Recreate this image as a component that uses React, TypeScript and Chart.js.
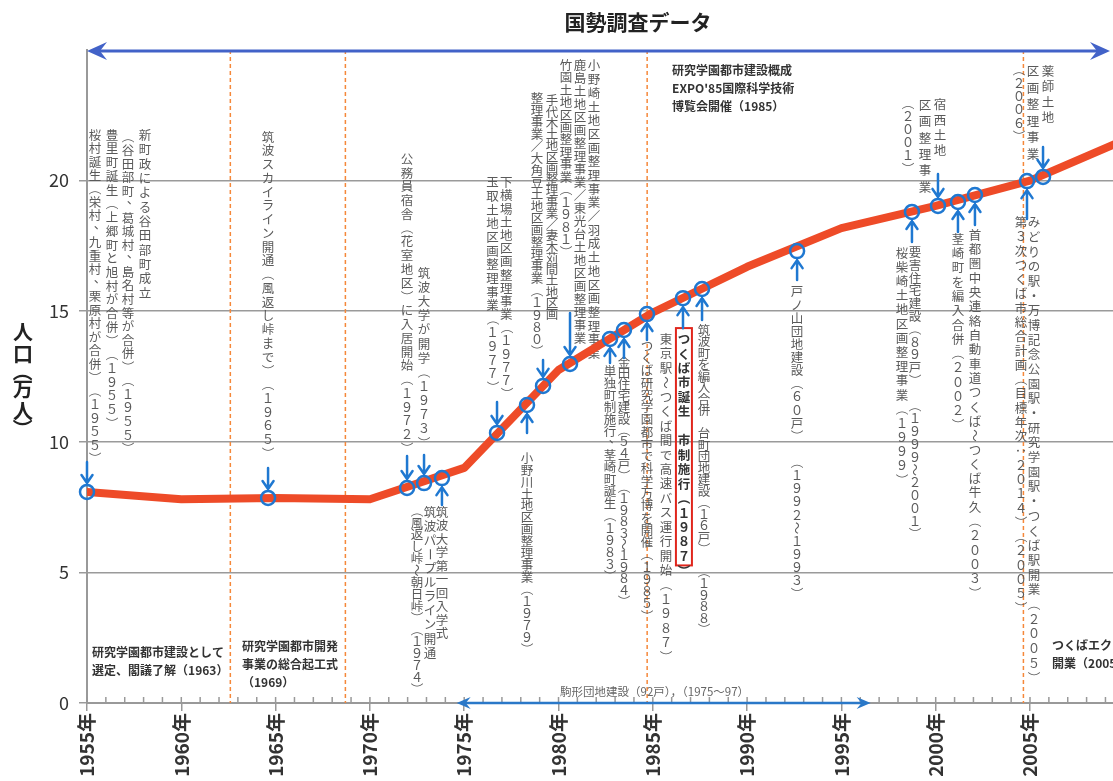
import { useEffect, useRef } from "react"
import { Chart, registerables, type Plugin } from "chart.js"

Chart.register(...registerables)

const FONT = "'Noto Sans CJK JP', 'Noto Sans', sans-serif"

// 国勢調査 population (万人)
const censusYears = [1955, 1960, 1965, 1970, 1975, 1980, 1985, 1990, 1995, 2000, 2005, 2010]
const population = [8.08, 7.8, 7.85, 7.8, 9.0, 12.75, 14.95, 16.7, 18.18, 19.03, 20.0, 21.55]

const yearTicks = [1955, 1960, 1965, 1970, 1975, 1980, 1985, 1990, 1995, 2000, 2005]
const valueTicks = [0, 5, 10, 15, 20]

// event markers on the curve
const markerYears = [
  1955.0, 1964.6, 1971.97, 1972.87, 1973.82, 1976.74, 1978.33, 1979.18, 1980.61, 1982.73, 1983.47,
  1984.69, 1986.6, 1987.61, 1992.65, 1998.74, 2000.12, 2001.18, 2002.08, 2004.84, 2005.69,
]
const markerValues = [
  8.08, 7.85, 8.23, 8.42, 8.61, 10.34, 11.41, 12.14, 12.98, 13.94, 14.28,
  14.89, 15.5, 15.85, 17.3, 18.8, 19.03, 19.18, 19.45, 19.98, 20.14,
]
const markerDirs = [
  "down", "down", "down", "down", "up", "down", "up", "down", "down", "up", "up",
  "up", "up", "up", "up", "up", "down", "up", "up", "up", "down",
]

// 研究学園都市 milestones (dashed lines)
const milestoneYears = [1962.6, 1968.7, 1984.7, 2004.65]

// 駒形団地建設 span
const komagataSpan = [1974.6, 1996.55]

// layout of the annotation texts (x in years, top/bottom in 万人)
const arrowTails = [30, 30, 32, 28, 27, 31, 28, 26, 51, 24, 28, 26, 30, 31, 29, 30, 32, 30, 30, 38, 30]

type Note = { text: string; x: number; top: number; bottom: number; boxed?: boolean }
const notes: Note[] = [
  { text: "新町政による谷田部町成立", x: 1958.08, top: 22.01, bottom: 15.43 },
  { text: "（谷田部町、葛城村、島名村等が合併）（１９５５）", x: 1957.17, top: 21.94, bottom: 9.49 },
  { text: "豊里町誕生（上郷町と旭村が合併）（１９５５）", x: 1956.33, top: 22.01, bottom: 10.45 },
  { text: "桜村誕生（栄村、九重村、栗原村が合併）（１９５５）", x: 1955.42, top: 22.01, bottom: 9.11 },
  { text: "筑波スカイライン開通（風返し峠まで）（１９６５）", x: 1964.6, top: 21.94, bottom: 9.3 },
  { text: "公務員宿舎（花室地区）に入居開始（１９７２）", x: 1971.97, top: 21.09, bottom: 9.49 },
  { text: "筑波大学が開学（１９７３）", x: 1972.87, top: 16.73, bottom: 9.69 },
  { text: "筑波大学第一回入学式", x: 1973.82, top: 7.58, bottom: 2.41 },
  { text: "筑波パープルライン開通", x: 1973.19, top: 7.58, bottom: 1.65 },
  { text: "（風返し峠～朝日峠）（１９７４）", x: 1972.5, top: 7.58, bottom: 0.31 },
  { text: "下横場土地区画整理事業（１９７７）", x: 1977.23, top: 20.18, bottom: 11.6 },
  { text: "玉取土地区画整理事業（１９７７）", x: 1976.5, top: 20.18, bottom: 11.83 },
  { text: "小野川土地区画整理事業（１９７９）", x: 1978.33, top: 9.61, bottom: 1.84 },
  { text: "手代木土地区画整理事業／妻木苅間土地区画", x: 1979.66, top: 23.28, bottom: 14.66 },
  { text: "整理事業／大角豆土地区画整理事業（１９８０）", x: 1978.86, top: 23.39, bottom: 13.25 },
  { text: "小野崎土地区画整理事業／羽成土地区画整理事業", x: 1981.88, top: 24.66, bottom: 13.13 },
  { text: "鹿島土地区画整理事業／東光台土地区画整理事業", x: 1981.14, top: 24.66, bottom: 13.71 },
  { text: "竹園土地区画整理事業（１９８１）", x: 1980.4, top: 24.66, bottom: 17.04 },
  { text: "単独町制施行、茎崎町誕生（１９８３）", x: 1982.73, top: 12.94, bottom: 4.63 },
  { text: "金田住宅建設（５４戸）（１９８３～１９８４）", x: 1983.47, top: 13.28, bottom: 3.68 },
  { text: "つくば研究学園都市で科学万博を開催（１９８５）", x: 1984.69, top: 13.9, bottom: 3.1 },
  { text: "東京駅～つくば間で高速バス運行開始（１９８７）", x: 1985.7, top: 14.2, bottom: 1.49 },
  { text: "つくば市誕生　市制施行（１９８７）", x: 1986.65, top: 14.2, bottom: 4.79, boxed: true },
  { text: "筑波町を編入合併　台町団地建設（１６戸）　（１９８８）", x: 1987.71, top: 14.51, bottom: 2.6 },
  { text: "戸ノ山団地建設（６０戸）　（１９９２～１９９３）", x: 1992.65, top: 16.0, bottom: 3.94 },
  { text: "要害住宅建設（８９戸）　（１９９９～２００１）", x: 1998.9, top: 17.5, bottom: 6.24 },
  { text: "桜柴崎土地区画整理事業（１９９９）", x: 1998.21, top: 17.5, bottom: 8.27 },
  { text: "宿西土地", x: 2000.23, top: 23.2, bottom: 20.87 },
  { text: "区画整理事業", x: 1999.43, top: 23.2, bottom: 19.45 },
  { text: "（２００１）", x: 1998.53, top: 23.2, bottom: 20.21 },
  { text: "茎崎町を編入合併（２００２）", x: 2001.18, top: 18.03, bottom: 10.38 },
  { text: "首都圏中央連絡自動車道つくば～つくば牛久（２００３）", x: 2002.08, top: 18.19, bottom: 3.94 },
  { text: "みどりの駅・万博記念公園駅・研究学園駅・つくば駅開業（２００５）", x: 2005.21, top: 18.68, bottom: 0.69 },
  { text: "第３次つくば市総合計画（目標年次：２０１４）（２００５）", x: 2004.52, top: 18.68, bottom: 3.37 },
  { text: "薬師土地", x: 2005.95, top: 24.5, bottom: 22.13 },
  { text: "区画整理事業", x: 2005.16, top: 24.5, bottom: 20.71 },
  { text: "（２００６）", x: 2004.42, top: 24.5, bottom: 21.44 },
]

const blocks = [
  { lines: ["研究学園都市建設として", "選定、閣議了解（1963）"], x: 1955.27, y: 1.95 },
  { lines: ["研究学園都市開発", "事業の総合起工式", "（1969）"], x: 1963.22, y: 2.18 },
  { lines: ["研究学園都市建設概成", "EXPO'85国際科学技術", "博覧会開催（1985）"], x: 1986.02, y: 24.23 },
  { lines: ["つくばエクスプレス", "開業（2005）"], x: 2006.17, y: 2.22 },
]

const ROTATED = ["（", "）", "～", "ー", "："]

function drawVertical(ctx: CanvasRenderingContext2D, text: string, x: number, top: number, bottom: number) {
  const chars = Array.from(text)
  const step = (bottom - top) / chars.length
  chars.forEach((ch, i) => {
    ctx.save()
    ctx.translate(x, top + step * (i + 0.5))
    if (ROTATED.includes(ch)) ctx.rotate(Math.PI / 2)
    else if (ch === "、") ctx.translate(5, -5)
    ctx.fillText(ch, 0, 0)
    ctx.restore()
  })
}

function filledHead(ctx: CanvasRenderingContext2D, x: number, y: number, dir: number, len: number, half: number) {
  ctx.beginPath()
  ctx.moveTo(x, y)
  ctx.lineTo(x - dir * len, y - half)
  ctx.lineTo(x - dir * len * 0.65, y)
  ctx.lineTo(x - dir * len, y + half)
  ctx.closePath()
  ctx.fill()
}

const annotations: Plugin = {
  id: "annotations",
  beforeDatasetsDraw(chart) {
    const { ctx, chartArea: a, scales } = chart
    const xs = scales.x
    const ys = scales.y

    ctx.save()
    ctx.strokeStyle = "#f5883a"
    ctx.lineWidth = 1.5
    ctx.setLineDash([4, 3])
    milestoneYears.forEach((yr) => {
      const px = xs.getPixelForValue(yr)
      ctx.beginPath()
      ctx.moveTo(px, a.top)
      ctx.lineTo(px, a.bottom)
      ctx.stroke()
    })
    ctx.restore()

    ctx.save()
    ctx.textAlign = "center"
    ctx.textBaseline = "middle"
    notes.forEach((n) => {
      const px = xs.getPixelForValue(n.x)
      const t = ys.getPixelForValue(n.top)
      const b = ys.getPixelForValue(n.bottom)
      if (n.boxed) {
        const step = (b - t) / Array.from(n.text).length
        ctx.strokeStyle = "#e0261c"
        ctx.lineWidth = 2
        ctx.strokeRect(px - 8, t - 4, 16, b - t - step + 6)
        ctx.font = `bold 12.5px ${FONT}`
        ctx.fillStyle = "#333"
      } else {
        ctx.font = `12.5px ${FONT}`
        ctx.fillStyle = "#5a5a5a"
      }
      drawVertical(ctx, n.text, px, t, b)
    })
    ctx.restore()

    ctx.save()
    ctx.font = `bold 12px ${FONT}`
    ctx.fillStyle = "#333"
    ctx.textAlign = "left"
    ctx.textBaseline = "middle"
    blocks.forEach((bl) => {
      const px = xs.getPixelForValue(bl.x)
      const py = ys.getPixelForValue(bl.y)
      bl.lines.forEach((line, i) => ctx.fillText(line, px, py + i * 18))
    })
    ctx.restore()
  },
  afterDraw(chart) {
    const { ctx, chartArea: a, scales } = chart
    const xs = scales.x
    const ys = scales.y

    // minor year ticks above the axis
    ctx.save()
    ctx.strokeStyle = "#999"
    ctx.lineWidth = 1.5
    for (let yr = 1955; yr <= xs.max; yr++) {
      const px = xs.getPixelForValue(yr)
      ctx.beginPath()
      ctx.moveTo(px, a.bottom)
      ctx.lineTo(px, a.bottom - 6)
      ctx.stroke()
    }
    ctx.restore()

    // arrows pointing at markers
    ctx.save()
    ctx.strokeStyle = "#1f78d1"
    ctx.lineWidth = 2.5
    ctx.lineCap = "round"
    markerYears.forEach((yr, i) => {
      const px = xs.getPixelForValue(yr)
      const py = ys.getPixelForValue(markerValues[i])
      const s = markerDirs[i] === "down" ? -1 : 1
      const tail = py + s * arrowTails[i]
      const tip = py + s * 9
      ctx.beginPath()
      ctx.moveTo(px, tail)
      ctx.lineTo(px, tip)
      ctx.moveTo(px - 5.5, tip + s * 8)
      ctx.lineTo(px, tip)
      ctx.lineTo(px + 5.5, tip + s * 8)
      ctx.stroke()
    })
    ctx.restore()

    // 国勢調査データ span arrow
    ctx.save()
    ctx.strokeStyle = "#4262c8"
    ctx.fillStyle = "#4262c8"
    ctx.lineWidth = 3
    const ty = a.top + 1
    ctx.beginPath()
    ctx.moveTo(a.left + 6, ty)
    ctx.lineTo(a.right - 8, ty)
    ctx.stroke()
    filledHead(ctx, a.left, ty, -1, 20, 9)
    filledHead(ctx, a.right - 3, ty, 1, 20, 9)

    // 駒形団地建設 span arrow
    ctx.strokeStyle = "#2a78c8"
    ctx.fillStyle = "#2a78c8"
    ctx.lineWidth = 2.5
    const k0 = xs.getPixelForValue(komagataSpan[0])
    const k1 = xs.getPixelForValue(komagataSpan[1])
    const ky = a.bottom
    ctx.beginPath()
    ctx.moveTo(k0 + 5, ky)
    ctx.lineTo(k1 - 5, ky)
    ctx.stroke()
    filledHead(ctx, k0, ky, -1, 14, 6)
    filledHead(ctx, k1, ky, 1, 14, 6)
    ctx.font = `11.5px ${FONT}`
    ctx.fillStyle = "#666"
    ctx.textAlign = "left"
    ctx.textBaseline = "middle"
    ctx.fillText("駒形団地建設（92戸），（1975～97）", xs.getPixelForValue(1980.08), ky - 11)
    ctx.restore()

    // title
    ctx.save()
    ctx.font = `bold 21px ${FONT}`
    ctx.fillStyle = "#222"
    ctx.textAlign = "center"
    ctx.textBaseline = "middle"
    ctx.fillText("国勢調査データ", 638, 22)

    // y axis title, stacked vertically
    ctx.font = `bold 20px ${FONT}`
    let y = 321
    Array.from("人口（万人）").forEach((ch) => {
      const h = ROTATED.includes(ch) ? 13 : 22
      ctx.save()
      ctx.translate(23, y + h / 2)
      if (ROTATED.includes(ch)) ctx.rotate(Math.PI / 2)
      ctx.fillText(ch, 0, 0)
      ctx.restore()
      y += h
    })
    ctx.restore()
  },
}

export default function App() {
  const canvasRef = useRef<HTMLCanvasElement>(null)
  const chartRef = useRef<Chart | null>(null)

  useEffect(() => {
    document.body.style.margin = "0"
    document.body.style.overflow = "hidden"
    if (!canvasRef.current) return
    if (chartRef.current) chartRef.current.destroy()

    chartRef.current = new Chart(canvasRef.current, {
      type: "scatter",
      data: {
        datasets: [
          {
            type: "line",
            data: censusYears.map((x, i) => ({ x, y: population[i] })),
            borderColor: "#ee4b28",
            borderWidth: 8,
            borderCapStyle: "round",
            borderJoinStyle: "round",
            pointRadius: 0,
            tension: 0,
            order: 2,
          },
          {
            data: markerYears.map((x, i) => ({ x, y: markerValues[i] })),
            pointRadius: 7,
            pointBorderWidth: 2.5,
            borderColor: "#1f78d1",
            backgroundColor: "rgba(0,0,0,0)",
            clip: false,
            order: 1,
          },
        ],
      },
      options: {
        responsive: true,
        maintainAspectRatio: false,
        animation: false,
        layout: { autoPadding: false, padding: { top: 50, left: 0, right: 0, bottom: 0 } },
        plugins: {
          legend: { display: false },
          tooltip: { enabled: false },
        },
        scales: {
          x: {
            type: "linear",
            min: 1955,
            max: 2009.4,
            afterBuildTicks: (s) => {
              s.ticks = yearTicks.map((value) => ({ value }))
            },
            afterFit: (s) => {
              s.height = 78
              s.paddingLeft = 0
              s.paddingRight = 0
            },
            ticks: {
              callback: (v) => `${v}年`,
              minRotation: 90,
              maxRotation: 90,
              autoSkip: false,
              padding: 2,
              color: "#333",
              font: { family: FONT, size: 19, weight: "bold" },
            },
            grid: { drawOnChartArea: false, tickLength: 8, color: "#999", lineWidth: 1.5 },
            border: { color: "#999", width: 2 },
          },
          y: {
            min: 0,
            max: 25,
            afterBuildTicks: (s) => {
              s.ticks = valueTicks.map((value) => ({ value }))
            },
            afterFit: (s) => {
              s.width = 87
              s.paddingTop = 0
              s.paddingBottom = 0
            },
            ticks: {
              padding: 10,
              color: "#333",
              font: { family: FONT, size: 18 },
            },
            grid: { tickLength: 8, color: "#9a9a9a", lineWidth: 1.5 },
            border: { color: "#999", width: 2 },
          },
        },
      },
      plugins: [annotations],
    })

    return () => {
      if (chartRef.current) {
        chartRef.current.destroy()
        chartRef.current = null
      }
    }
  }, [])

  return (
    <div style={{ position: "relative", width: 1113, height: 781 }}>
      <canvas ref={canvasRef} style={{ display: "block" }} />
    </div>
  )
}
